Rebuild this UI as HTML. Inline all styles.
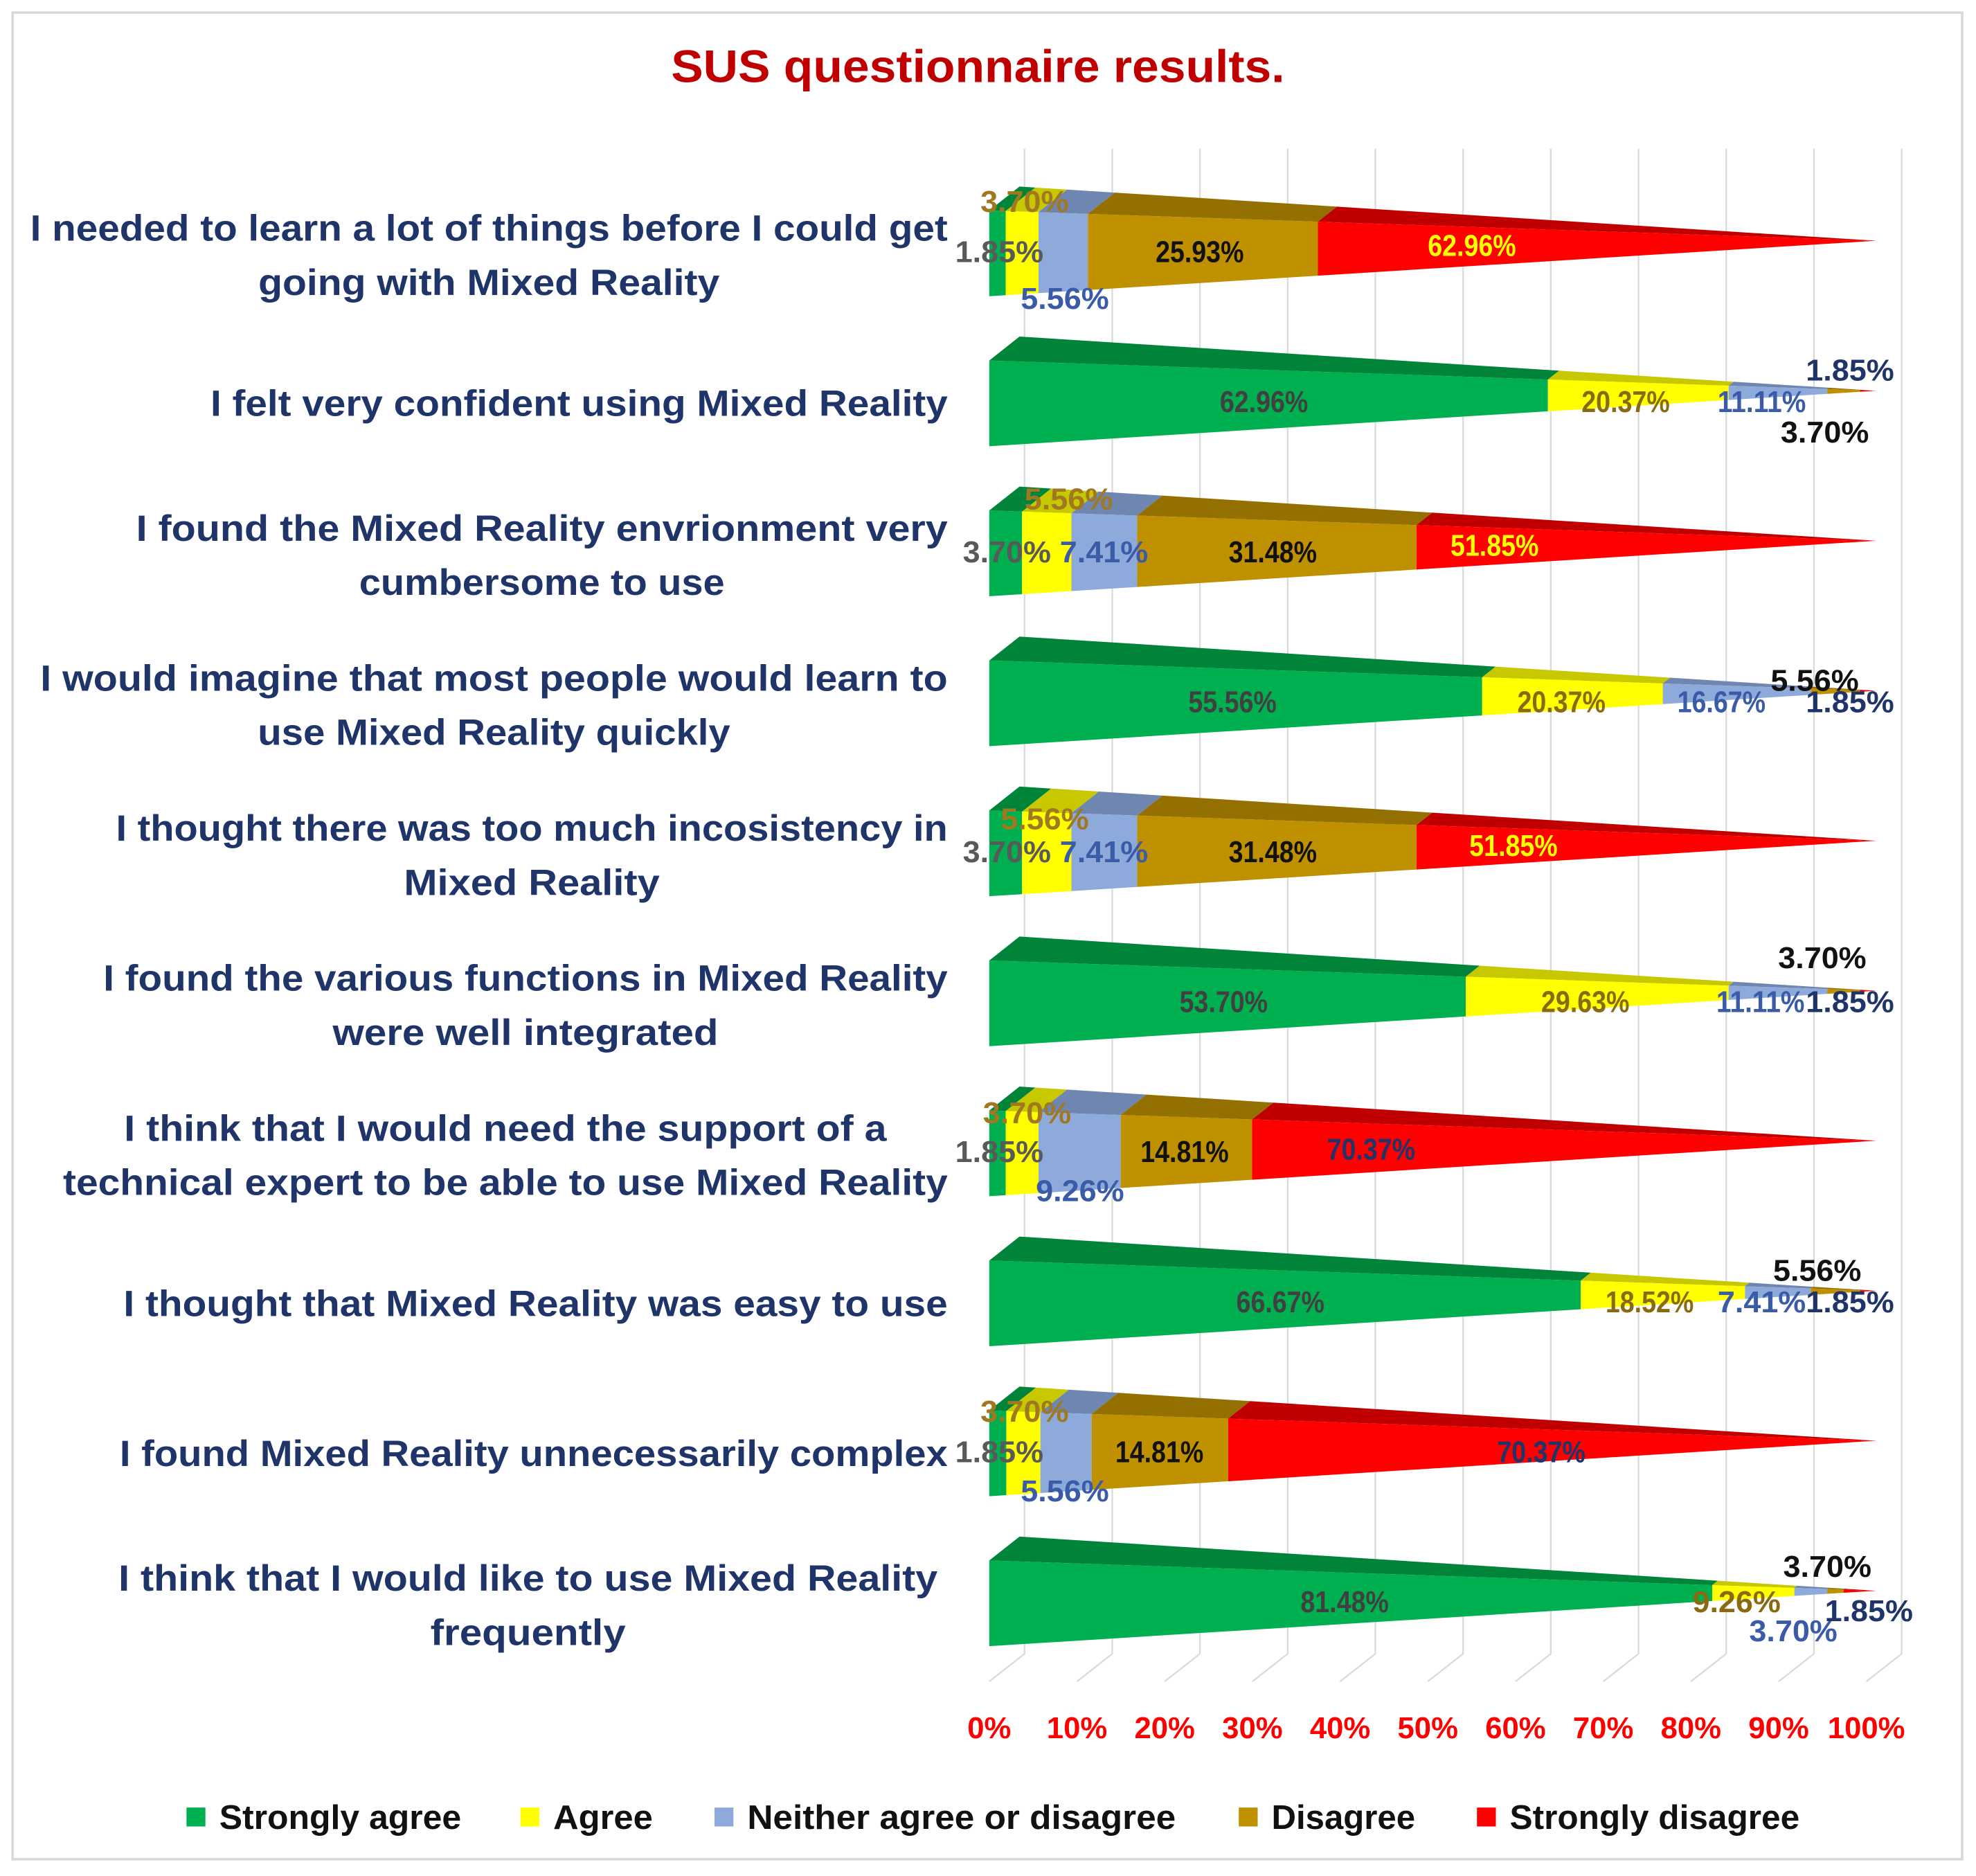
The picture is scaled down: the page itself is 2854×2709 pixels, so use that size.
<!DOCTYPE html>
<html><head><meta charset="utf-8"><style>
html,body{margin:0;padding:0;background:#fff}
svg{display:block}
text{font-family:"Liberation Sans",sans-serif;font-weight:bold}
</style></head><body>
<svg id="chart" width="2854" height="2709" viewBox="0 0 1568 1488.3" preserveAspectRatio="none" xmlns="http://www.w3.org/2000/svg">
<rect x="10" y="10" width="1547" height="1465" fill="#fff" stroke="#d9d9d9" stroke-width="2"/>
<text x="776" y="65" text-anchor="middle" font-size="36" fill="#c00000" textLength="487" lengthAdjust="spacingAndGlyphs">SUS questionnaire results.</text>
<g id="grid"></g><g id="bars"></g><g id="labels"></g><g id="cats"></g><g id="ticks"></g><g id="legend"></g>
</svg>
<script>
const categories = [
 ["I needed to learn a lot of things before I could get","going with Mixed Reality"],
 ["I felt very confident using Mixed Reality"],
 ["I found the Mixed Reality envrionment very","cumbersome to use"],
 ["I would imagine that most people would learn to","use Mixed Reality quickly"],
 ["I thought there was too much incosistency in","Mixed Reality"],
 ["I found the various functions in Mixed Reality","were well integrated"],
 ["I think that I would need the support of a","technical expert to be able to use Mixed Reality"],
 ["I thought that Mixed Reality was easy to use"],
 ["I found Mixed Reality unnecessarily complex"],
 ["I think that I would like to use Mixed Reality","frequently"]
];
const seriesNames = ["Strongly agree","Agree","Neither agree or disagree","Disagree","Strongly disagree"];
const stronglyAgree = [1.85,62.96,3.70,55.56,3.70,53.70,1.85,66.67,1.85,81.48];
const agree = [3.70,20.37,5.56,20.37,5.56,29.63,3.70,18.52,3.70,9.26];
const neither = [5.56,11.11,7.41,16.67,7.41,11.11,9.26,7.41,5.56,3.70];
const disagree = [25.93,3.70,31.48,5.56,31.48,3.70,14.81,5.56,14.81,1.85];
const stronglyDisagree = [62.96,1.85,51.85,1.85,51.85,1.85,70.37,1.85,70.37,3.70];
const tickLabels = ["0%","10%","20%","30%","40%","50%","60%","70%","80%","90%","100%"];
const tickValues = [0,10,20,30,40,50,60,70,80,90,100];

// layout: measured text widths of category lines (px in viewBox units)
const catWidths = [[728,366],[585],[644,290],[720,375],[660,203],[670,306],[605,702],[654],[657],[650,155]];

const NS="http://www.w3.org/2000/svg";
const series=[stronglyAgree,agree,neither,disagree,stronglyDisagree];
const front=["#00b050","#ffff00","#8eaadb","#bf9000","#ff0000"];
const topc=["#00843a","#c8c800","#6f86b0","#937000","#c00000"];
const X0=785,X100=1481,TIP=1489,H=68,DX=24,DY=-19;
const x=p=>X0+(X100-X0)*p/100;
const rowY=i=>201+i*119;
function el(tag,attrs,parent){const e=document.createElementNS(NS,tag);for(const k in attrs)e.setAttribute(k,attrs[k]);parent.appendChild(e);return e;}
const G=id=>document.getElementById(id);

tickValues.forEach((v,i)=>{
 const fx=x(v), bx=fx+28;
 const g=el('polyline',{points:`${bx},118 ${bx},1312 ${fx},1334`,fill:'none',stroke:'#d9d9d9','stroke-width':1.2},G('grid'));
 
 
 const t=el('text',{x:fx,y:1379,'text-anchor':'middle','font-size':24,fill:'#ff0000'},G('ticks'));
 t.textContent=tickLabels[i];
 
 
});

function pts(yc,t){
 const fx=X0+(TIP-X0)*t, bx=X0+DX+(TIP-X0-DX)*t;
 const tipY=yc-10;
 return {ft:[fx,(yc-H/2)+(tipY-(yc-H/2))*t], fb:[fx,(yc+H/2)+(tipY-(yc+H/2))*t], bt:[bx,(yc-H/2+DY)+(tipY-(yc-H/2+DY))*t]};
}
for(let r=0;r<categories.length;r++){
 const yc=rowY(r);let acc=0;
 let total=0;for(let s=0;s<5;s++)total+=series[s][r];
 for(let s=0;s<5;s++){
  const a=acc/total, b=(acc+series[s][r])/total; acc+=series[s][r];
  const A=pts(yc,a),B=pts(yc,Math.min(b,1));
  const tp=el('polygon',{points:[A.ft,B.ft,B.bt,A.bt].map(p=>p.join(',')).join(' '),fill:topc[s]},G('bars'));
  
  
  const fp=el('polygon',{points:[A.ft,B.ft,B.fb,A.fb].map(p=>p.join(',')).join(' '),fill:front[s]},G('bars'));
  
  
 }
 const lines=categories[r], ws=catWidths[r];
 const maxW=Math.max(...ws);
 const right = r===9 ? 744 : 752;
 const center=right-maxW/2;
 lines.forEach((ln,li)=>{
  const yy = lines.length===1? yc+10 : yc-20+li*43+10;
  const t=el('text',{'font-size':29,fill:'#1f3468',textLength:ws[li],lengthAdjust:'spacingAndGlyphs',x:center,'text-anchor':'middle',y:yy},G('cats'));
  t.textContent=ln;
  
  
 });
}

const labelPos = [
 [[793,208,'#595959'],[813,168,'#a07820'],[845,245,'#3a5ba8'],[952,208,'#111'],[1168,203,'#ffff00']],
 [[1003,327,'#404040'],[1290,327,'#8a6a10'],[1398,327,'#3a5ba8'],[1448,351,'#111'],[1468,302,'#1f3468']],
 [[799,446,'#595959'],[848,404,'#a07820'],[876,446,'#3a5ba8'],[1010,446,'#111'],[1186,441,'#ffff00']],
 [[978,565,'#404040'],[1239,565,'#8a6a10'],[1366,565,'#3a5ba8'],[1440,548,'#111'],[1468,565,'#1f3468']],
 [[799,684,'#595959'],[829,658,'#a07820'],[876,684,'#3a5ba8'],[1010,684,'#111'],[1201,679,'#ffff00']],
 [[971,803,'#404040'],[1258,803,'#8a6a10'],[1397,803,'#3a5ba8'],[1446,768,'#111'],[1468,803,'#1f3468']],
 [[793,922,'#595959'],[815,891,'#a07820'],[857,953,'#3a5ba8'],[940,922,'#111'],[1088,920,'#1f3468']],
 [[1016,1041,'#404040'],[1309,1041,'#8a6a10'],[1398,1041,'#3a5ba8'],[1442,1016,'#111'],[1468,1041,'#1f3468']],
 [[793,1160,'#595959'],[813,1128,'#a07820'],[845,1191,'#3a5ba8'],[920,1160,'#111'],[1223,1160,'#1f3468']],
 [[1067,1279,'#404040'],[1378,1279,'#8a6a10'],[1423,1302,'#3a5ba8'],[1483,1286,'#1f3468'],[1450,1251,'#111']]
];
for(let r=0;r<categories.length;r++)for(let s=0;s<5;s++){
 const [lx,ly,c]=labelPos[r][s];
 const t=el('text',{x:lx,y:ly,'text-anchor':'middle','font-size':24,fill:c,textLength:70,lengthAdjust:'spacingAndGlyphs'},G('labels'));
 t.textContent=series[s][r].toFixed(2)+'%';
 
 
}

const legX=[148,413,567,983,1172],legW=[218,105,366,140,256];
seriesNames.forEach((n,i)=>{
 const r=el('rect',{x:legX[i],y:1434,width:15,height:15,fill:front[i]},G('legend'));
 
 
 const t=el('text',{x:legX[i]+26,y:1451,'font-size':27,fill:'#111',textLength:legW[i]-26,lengthAdjust:'spacingAndGlyphs'},G('legend'));
 t.textContent=n;
 
 
});
</script>
</body></html>
